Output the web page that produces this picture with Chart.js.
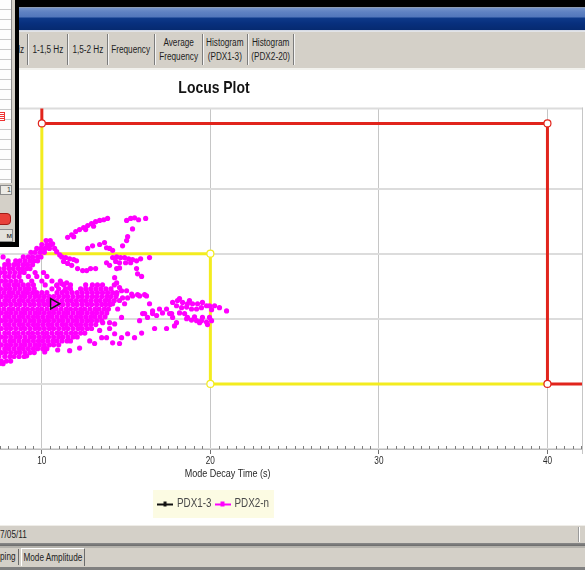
<!DOCTYPE html>
<html>
<head>
<meta charset="utf-8">
<title>Locus Plot</title>
<script src="https://cdn.jsdelivr.net/npm/chart.js@4.4.1/dist/chart.umd.min.js"></script>
<style>
  html, body { margin: 0; padding: 0; overflow: hidden; background: #fff; }
  #screen { position: relative; width: 585px; height: 570px; overflow: hidden; background: #fff;
            font-family: 'Liberation Sans', Arial, sans-serif; }
  .abs { position: absolute; }
  .sq { display: inline-block; transform: scaleX(0.82); transform-origin: center; }
  .sqL { display: inline-block; transform: scaleX(0.82); transform-origin: left center; }
  #topEdge { left: 0; top: 0; width: 585px; height: 7px; background: #000; }
  #caption { left: 0; top: 7px; width: 585px; height: 25px;
             background: linear-gradient(to bottom, #8e9cb4 0, #8e9cb4 1px, #7493ca 1px, #5f82c2 5px, #5277bb 10px,
                                         #0e3a8a 11px, #08307e 16px, #062a70 23px, #cfd6e4 23px, #e8e8e8 25px); }
  #tabStrip { left: 0; top: 32px; width: 585px; height: 36px; background: #d4d0c8; }
  #tabStrip .sep { position: absolute; top: 2px; width: 1px; height: 31px; background: #7c7c7c; box-shadow: 1px 0 0 #f4f4f4; }
  #tabStrip .lbl { position: absolute; top: 0; height: 36px; display: flex; align-items: center; justify-content: center;
                   text-align: center; font-size: 10px; line-height: 14px; color: #1e1e1e; white-space: nowrap; }
  #tabBase { left: 0; top: 68px; width: 585px; height: 2px; background: #f2f2ee; }
  #chartBox { left: -154px; top: 70px; width: 739px; height: 455px; }
  #statusBar { left: 0; top: 525px; width: 585px; height: 18px; background: #d4d0c8; border-top: 1px solid #efede8;
               box-sizing: border-box; font-size: 10px; line-height: 17px; color: #1e1e1e; }
  #statusBar .div { position: absolute; left: 578px; top: 1px; width: 1px; height: 15px; background: #9a9a9a; box-shadow: 1px 0 0 #fff; }
  #statusSep { left: 0; top: 543px; width: 585px; height: 5px; background: linear-gradient(to bottom, #8a8a8a 0, #6c6c6c 3px, #b4b2ac 3px); }
  #bottomTabs { left: 0; top: 548px; width: 585px; height: 19px; background: #d4d0c8; font-size: 10px; color: #1e1e1e; }
  #bottomTabs .t1 { position: absolute; left: 0; top: 3px; }
  #bottomTabs .t2 { position: absolute; left: 21px; top: 0; width: 62px; height: 17px; border-left: 1px solid #fff; border-top: 1px solid #fff;
                    border-right: 1px solid #6c6c6c; line-height: 17px; display: flex; justify-content: center; white-space: nowrap; }
  #bottomTabs .s1 { position: absolute; left: 18px; top: 1px; width: 1px; height: 16px; background: #6c6c6c; }
  #bottomEdge { left: 0; top: 567px; width: 585px; height: 3px; background: #808080; }

  #sidePanel { left: 0; top: 0; width: 15px; height: 242px; background: #d4d0c8; border-right: 4px solid #000; border-bottom: 5px solid #000; z-index: 5; }
  #sidePanel .list { position: absolute; left: 0; top: 0; width: 11px; height: 183px; background: #fdfdfd; border-right: 1px solid #8c8c8c;
                     background-image: repeating-linear-gradient(to bottom, transparent 0, transparent 9px, #c9c9c9 9px, #c9c9c9 10px); }
  #sidePanel .mark { position: absolute; left: 0; top: 112px; width: 4px; height: 7px; border: 1px solid #e33; border-left: none;
                     background: repeating-linear-gradient(to bottom, #fff 0, #fff 1px, #e33 1px, #e33 2px); }
  #sidePanel .pager { position: absolute; left: 0; top: 185px; width: 10px; height: 8px; border: 1px solid #8c8c8c; background: #ecebe6;
                      font-size: 7px; line-height: 8px; text-align: right; color: #333; }
  #sidePanel .redBtn { position: absolute; left: -4px; top: 213px; width: 13px; height: 10px; border-radius: 4px; background: #e8413a;
                       border: 1px solid #a01d18; }
  #sidePanel .btn { position: absolute; left: 0; top: 229px; width: 12px; height: 11px; border: 1px solid #8c8c8c; border-left: none; background: #e4e2dc;
                    font-size: 8px; line-height: 11px; color: #222; text-align: right; overflow: hidden; }
</style>
</head>
<body>
<div id="screen">
  <div id="topEdge" class="abs"></div>
  <div id="caption" class="abs"></div>
  <div id="tabStrip" class="abs">
    <div class="lbl" style="left:3px;width:21px;justify-content:flex-end;"><span class="sq" style="transform-origin:right center">Hz</span></div>
    <div class="sep" style="left:27px"></div>
    <div class="lbl" style="left:28px;width:39px;"><span class="sq">1-1,5 Hz</span></div>
    <div class="sep" style="left:67px"></div>
    <div class="lbl" style="left:68px;width:39px;"><span class="sq">1,5-2 Hz</span></div>
    <div class="sep" style="left:107px"></div>
    <div class="lbl" style="left:108px;width:46px;"><span class="sq">Frequency</span></div>
    <div class="sep" style="left:154px"></div>
    <div class="lbl" style="left:155px;width:47px;"><span class="sq">Average<br>Frequency</span></div>
    <div class="sep" style="left:202px"></div>
    <div class="lbl" style="left:203px;width:44px;"><span class="sq">Histogram<br>(PDX1-3)</span></div>
    <div class="sep" style="left:247px"></div>
    <div class="lbl" style="left:248px;width:45px;"><span class="sq">Histogram<br>(PDX2-20)</span></div>
    <div class="sep" style="left:293px"></div>
  </div>
  <div id="tabBase" class="abs"></div>

  <div id="chartBox" class="abs"><canvas id="locus" width="739" height="455"></canvas></div>

  <div id="statusBar" class="abs"><span class="sqL">7/05/11</span><div class="div"></div></div>
  <div id="statusSep" class="abs"></div>
  <div id="bottomTabs" class="abs">
    <span class="t1 sqL">ping</span>
    <div class="s1"></div>
    <div class="t2"><span class="sq">Mode Amplitude</span></div>
  </div>
  <div id="bottomEdge" class="abs"></div>

  <div id="sidePanel" class="abs">
    <div class="list"><div class="mark"></div></div>
    <div class="pager">1</div>
    <div class="redBtn"></div>
    <div class="btn">м</div>
  </div>
</div>

<script>
// ---- axis ticks ----
const decayTicks = [0, 10, 20, 30, 40];        // Mode Decay Time (s)
const dampingGrid = [0, 1, 2, 3, 4];           // horizontal grid levels
const minorStep = 0.5;

// ---- alarm limit polylines ----
const redLimitX = [10, 10, 40, 40, 46];
const redLimitY = [5.6, 5, 5, 1, 1];
const redMarkers = [0, 3.5, 3.5, 3.5, 0];

const yellowLimitX = [10, 10, 20, 20, 40];
const yellowLimitY = [5, 3, 3, 1, 1];
const yellowMarkers = [0, 0, 3.5, 3.5, 0];

// ---- PDX1-3 ----
const pdx13X = [10.70];
const pdx13Y = [2.23];

// ---- PDX2-n: main cloud, one row per damping level ----
const pdx2CloudRows = [
  [3.20, [10.25, 10.50]],
  [3.14, [10.00, 10.30, 10.55]],
  [3.08, [9.70, 9.95, 10.20, 10.45]],
  [3.02, [9.35, 9.60, 9.90, 10.15]],
  [2.95, [7.70, 8.90, 9.20, 9.45, 9.75, 9.95]],
  [2.89, [8.00, 8.45, 8.70, 9.00, 9.30, 9.55, 9.75]],
  [2.83, [7.80, 8.05, 8.35, 8.60, 8.90, 9.15, 9.45]],
  [2.77, [7.45, 7.75, 8.05, 8.30, 8.60, 8.85, 9.10, 9.30]],
  [2.71, [7.55, 7.80, 8.10, 8.40, 8.70, 8.95, 9.60, 10.10]],
  [2.65, [7.45, 7.80, 8.05, 8.35, 8.65, 9.20, 9.70, 10.30]],
  [2.58, [7.60, 7.85, 8.15, 8.45, 8.75, 9.40, 10.00, 10.60, 11.10]],
  [2.52, [7.45, 7.80, 8.05, 8.35, 8.60, 8.90, 9.20, 9.50, 10.20, 10.90, 11.30, 11.70, 12.60, 13.00, 13.30, 13.60, 14.30]],
  [2.46, [7.55, 7.85, 8.10, 8.40, 8.70, 9.00, 9.25, 9.55, 10.60, 11.00, 11.40, 11.70, 12.30, 12.60, 12.90, 13.20, 13.50, 13.80, 14.10]],
  [2.40, [7.45, 7.75, 8.05, 8.30, 8.60, 8.90, 9.15, 9.45, 9.70, 10.00, 10.30, 10.90, 11.20, 11.50, 11.80, 12.10, 12.40, 12.70, 13.00, 13.30, 13.60, 13.90, 14.20, 14.45]],
  [2.34, [7.60, 7.90, 8.15, 8.45, 8.75, 9.00, 9.30, 9.60, 9.85, 10.15, 10.45, 10.70, 11.00, 11.30, 11.55, 11.85, 12.15, 12.40, 12.70, 13.00, 13.25, 13.55, 13.85, 14.10, 14.40]],
  [2.28, [7.45, 7.80, 8.05, 8.35, 8.65, 8.90, 9.20, 9.50, 9.80, 10.05, 10.35, 10.65, 10.90, 11.20, 11.50, 11.75, 12.05, 12.35, 12.60, 12.90, 13.20, 13.45, 13.75, 14.00, 14.30]],
  [2.22, [7.60, 7.85, 8.15, 8.45, 8.70, 9.00, 9.30, 9.55, 9.85, 10.15, 10.40, 10.70, 11.00, 11.25, 11.55, 11.85, 12.10, 12.40, 12.70, 12.95, 13.25, 13.55, 13.80, 14.05]],
  [2.15, [7.45, 7.75, 8.05, 8.30, 8.60, 8.90, 9.15, 9.45, 9.75, 10.00, 10.30, 10.60, 10.85, 11.15, 11.45, 11.70, 12.00, 12.30, 12.55, 12.85, 13.15, 13.40, 13.70, 13.95]],
  [2.09, [7.60, 7.90, 8.15, 8.45, 8.75, 9.00, 9.30, 9.60, 9.85, 10.15, 10.45, 10.70, 11.00, 11.30, 11.55, 11.85, 12.15, 12.40, 12.70, 13.00, 13.25, 13.55, 13.85]],
  [2.03, [7.45, 7.80, 8.05, 8.35, 8.65, 8.90, 9.20, 9.50, 9.75, 10.05, 10.35, 10.60, 10.90, 11.20, 11.45, 11.75, 12.05, 12.30, 12.60, 12.90, 13.15, 13.45, 13.75]],
  [1.97, [7.60, 7.85, 8.15, 8.45, 8.70, 9.00, 9.30, 9.55, 9.85, 10.15, 10.40, 10.70, 11.00, 11.25, 11.55, 11.85, 12.10, 12.40, 12.70, 12.95, 13.25, 13.55]],
  [1.91, [7.45, 7.80, 8.05, 8.35, 8.65, 8.90, 9.20, 9.50, 9.75, 10.05, 10.35, 10.60, 10.90, 11.20, 11.45, 11.75, 12.05, 12.30, 12.60, 12.90, 13.20]],
  [1.85, [7.60, 7.90, 8.15, 8.45, 8.75, 9.00, 9.30, 9.60, 9.85, 10.15, 10.45, 10.70, 11.00, 11.30, 11.55, 11.85, 12.15, 12.40, 12.70, 12.95]],
  [1.78, [7.45, 7.80, 8.05, 8.35, 8.60, 8.90, 9.20, 9.45, 9.75, 10.05, 10.30, 10.60, 10.90, 11.15, 11.45, 11.75, 12.00, 12.30, 12.55]],
  [1.72, [7.60, 7.85, 8.15, 8.45, 8.70, 9.00, 9.30, 9.55, 9.85, 10.15, 10.40, 10.70, 11.00, 11.25, 11.55, 11.85, 12.10]],
  [1.66, [7.45, 7.80, 8.10, 8.35, 8.65, 8.95, 9.20, 9.50, 9.80, 10.05, 10.35, 10.65, 10.90, 11.20, 11.50, 11.70]],
  [1.60, [7.60, 7.90, 8.15, 8.45, 8.75, 9.00, 9.30, 9.60, 9.85, 10.15, 10.45, 10.70, 11.00]],
  [1.54, [7.45, 7.80, 8.05, 8.35, 8.65, 8.90, 9.20, 9.50, 9.75, 10.05, 10.30]],
  [1.48, [7.60, 7.85, 8.15, 8.45, 8.70, 9.00, 9.30, 9.55]],
  [1.42, [7.45, 7.80, 8.10, 8.35, 8.65, 8.95]],
  [1.35, [7.60, 7.90, 8.15]],
  [1.31, [7.45, 7.70]]
];

// ---- PDX2-n: scattered modes [decay time, damping] ----
const pdx2Upper = [
  [11.53, 3.25], [11.77, 3.29], [11.89, 3.26], [12.01, 3.34], [12.24, 3.37], [12.48, 3.40], [12.60, 3.37],
  [12.72, 3.43], [12.95, 3.46], [13.07, 3.42], [13.19, 3.49], [13.43, 3.51], [13.67, 3.52], [13.90, 3.54],
  [15.03, 3.51], [15.27, 3.54], [15.50, 3.55], [15.74, 3.52], [16.16, 3.54], [15.38, 3.38], [15.09, 3.26],
  [15.03, 3.20], [14.79, 3.12], [12.72, 3.08], [13.01, 3.12], [13.43, 3.14], [13.72, 3.17], [13.84, 3.09],
  [14.02, 3.08], [14.20, 3.05]
];
const pdx2Middle = [
  [10.64, 3.15], [10.76, 3.08], [10.88, 3.03], [11.06, 2.98],
  [11.18, 2.95], [11.41, 2.94], [11.65, 2.92], [11.89, 2.91], [12.06, 2.89], [11.29, 2.88], [11.53, 2.85], [11.77, 2.82],
  [12.12, 2.77], [12.42, 2.74], [12.66, 2.74], [12.89, 2.77], [13.19, 2.77], [13.84, 2.86], [14.02, 2.82], [14.44, 2.77], [14.61, 2.78],
  [14.20, 2.94], [14.44, 2.95], [14.67, 2.94], [14.91, 2.94], [15.15, 2.92], [15.38, 2.91], [15.62, 2.89], [15.86, 2.92],
  [14.38, 2.88], [14.61, 2.86], [14.97, 2.86], [15.27, 2.86], [16.39, 2.94],
  [15.62, 2.77], [15.68, 2.69], [15.92, 2.65],
  [10.88, 2.51], [11.18, 2.54], [11.47, 2.55], [11.65, 2.48], [11.35, 2.43],
  [14.32, 2.63], [14.44, 2.55], [14.61, 2.48], [15.03, 2.43], [15.33, 2.38], [15.68, 2.37], [16.10, 2.37], [14.73, 2.43],
  [14.44, 2.38], [14.61, 2.28], [14.91, 2.23], [15.09, 2.32], [15.38, 2.35], [15.80, 2.35], [16.21, 2.35], [14.20, 2.23],
  [14.50, 2.15], [14.79, 2.32]
];
const pdx2Lower = [
  [9.10, 1.43], [10.17, 1.49], [10.94, 1.52], [11.65, 1.51], [12.24, 1.55], [12.84, 1.66], [13.13, 1.62], [13.55, 1.71],
  [13.84, 1.71], [14.20, 1.63], [14.61, 1.62], [14.32, 1.77], [14.73, 1.71], [15.09, 1.77], [15.50, 1.71], [15.92, 1.78],
  [13.43, 1.82], [14.02, 1.85], [13.61, 1.94], [14.02, 1.94], [14.32, 1.92], [14.73, 2.02], [15.80, 1.97], [16.10, 2.08],
  [16.57, 2.08], [16.69, 1.85], [17.40, 1.85], [17.87, 1.89], [17.99, 1.94], [17.16, 2.09], [17.40, 2.15], [17.58, 2.08]
];
const pdx2Tail = [
  [17.76, 2.25], [18.05, 2.28], [18.35, 2.25], [18.64, 2.23], [18.94, 2.23], [19.24, 2.23], [19.53, 2.25], [19.77, 2.20],
  [19.95, 2.20], [20.25, 2.20], [20.54, 2.17], [20.96, 2.12], [17.99, 2.20], [18.29, 2.17], [18.59, 2.18], [18.88, 2.15],
  [19.18, 2.15], [19.47, 2.17], [20.07, 2.14], [18.17, 2.31], [18.76, 2.28],
  [18.59, 2.00], [18.88, 1.98], [19.18, 1.97], [19.47, 1.97], [19.77, 1.95], [20.07, 1.97], [18.64, 2.02], [19.53, 2.02],
  [19.95, 2.02], [19.06, 2.03], [19.36, 1.94], [19.83, 1.91],
  [16.98, 2.15], [17.70, 2.08], [17.76, 2.02], [18.17, 2.09], [18.47, 2.08],
  [15.98, 2.08], [16.27, 2.02], [16.57, 2.12], [16.81, 2.05], [16.39, 2.23]
];

// ---- styling ----
const FONT = "'Liberation Sans', Arial, sans-serif";
const RED = '#e1241c';
const YELLOW = '#f3ec1f';
const MAGENTA = '#ff00ff';
const SQUEEZE = 0.82;   // narrow lettering of the monitoring UI

Chart.defaults.font.family = FONT;

const toPoints = (xs, ys) => xs.map((x, i) => ({ x, y: ys[i] }));
const pairPoints = list => list.map(([x, y]) => ({ x, y }));
const pdx2Data = [
  ...pdx2CloudRows.flatMap(([y, xs]) => xs.map(x => ({ x, y }))),
  ...pairPoints(pdx2Upper), ...pairPoints(pdx2Middle), ...pairPoints(pdx2Lower), ...pairPoints(pdx2Tail)
];

// canvas text is drawn horizontally condensed; measurements follow so layout stays consistent
const canvas = document.getElementById('locus');
const ctx2d = canvas.getContext('2d');
const rawFill = ctx2d.fillText.bind(ctx2d);
const rawMeasure = ctx2d.measureText.bind(ctx2d);
ctx2d.fillText = function (text, x, y) {
  ctx2d.save();
  ctx2d.translate(x, y);
  ctx2d.scale(SQUEEZE, 1);
  rawFill(text, 0, 0);
  ctx2d.restore();
};
ctx2d.measureText = function (text) {
  const m = rawMeasure(text);
  return {
    width: m.width * SQUEEZE,
    actualBoundingBoxLeft: m.actualBoundingBoxLeft * SQUEEZE,
    actualBoundingBoxRight: m.actualBoundingBoxRight * SQUEEZE,
    actualBoundingBoxAscent: m.actualBoundingBoxAscent,
    actualBoundingBoxDescent: m.actualBoundingBoxDescent
  };
};

// small "line with marker" swatch used in the legend
function legendMark(color, markW) {
  const c = document.createElement('canvas');
  c.width = 16; c.height = 7;
  const g = c.getContext('2d');
  g.fillStyle = color;
  g.fillRect(0, 3, 16, 2);
  g.fillRect(8 - markW / 2, 1, markW, 5);
  return c;
}

// plot frame: top edge and right edge of the plotting area
const plotFrame = {
  id: 'plotFrame',
  beforeDatasetsDraw(chart) {
    const { ctx, chartArea: a } = chart;
    ctx.save();
    ctx.strokeStyle = '#dcdcdc'; ctx.lineWidth = 2;
    ctx.beginPath(); ctx.moveTo(a.left, a.top); ctx.lineTo(a.right, a.top); ctx.stroke();
    ctx.strokeStyle = '#c6c6c6'; ctx.lineWidth = 1;
    ctx.beginPath(); ctx.moveTo(a.right + 0.5, a.top - 1); ctx.lineTo(a.right + 0.5, a.bottom + 5); ctx.stroke();
    ctx.restore();
  }
};

// minor tick marks along the time axis
const minorTicks = {
  id: 'minorTicks',
  afterDraw(chart) {
    const xs = chart.scales.x, a = chart.chartArea, ctx = chart.ctx;
    ctx.save();
    ctx.strokeStyle = '#7c7c7c'; ctx.lineWidth = 1;
    ctx.beginPath();
    for (let k = 1; k * minorStep < xs.max; k++) {
      const v = k * minorStep;
      if (decayTicks.includes(v)) continue;
      const p = Math.round(xs.getPixelForValue(v)) + 0.5;
      ctx.moveTo(p, a.bottom - 3); ctx.lineTo(p, a.bottom);
    }
    ctx.stroke();
    ctx.restore();
  }
};

// pale panel behind the legend entries
const legendPanel = {
  id: 'legendPanel',
  beforeDraw(chart) {
    const boxes = chart.legend && chart.legend.legendHitBoxes;
    if (!boxes || !boxes.length) return;
    const l = Math.min(...boxes.map(b => b.left)) - 6;
    const r = Math.max(...boxes.map(b => b.left + b.width)) + 5;
    const t = Math.min(...boxes.map(b => b.top)) - 8;
    const btm = Math.max(...boxes.map(b => b.top + b.height)) + 8;
    const ctx = chart.ctx;
    ctx.save();
    ctx.fillStyle = '#fcfbe3';
    ctx.fillRect(l, t, r - l, btm - t);
    ctx.restore();
  }
};

new Chart(canvas, {
  type: 'scatter',
  data: {
    datasets: [
      {
        label: 'PDX1-3',
        data: toPoints(pdx13X, pdx13Y),
        pointStyle: 'triangle',
        rotation: 90,
        pointRadius: 6,
        backgroundColor: 'rgba(0,0,0,0)',
        borderColor: '#1a1a1a',
        borderWidth: 1.5
      },
      {
        label: 'PDX2-n',
        data: pdx2Data,
        pointRadius: 2.6,
        backgroundColor: MAGENTA,
        borderWidth: 0
      },
      {
        label: 'red limit',
        data: toPoints(redLimitX, redLimitY),
        showLine: true,
        borderColor: RED,
        borderWidth: 3,
        pointRadius: redMarkers,
        pointBackgroundColor: '#fff',
        pointBorderColor: RED,
        pointBorderWidth: 1.2
      },
      {
        label: 'yellow limit',
        data: toPoints(yellowLimitX, yellowLimitY),
        showLine: true,
        borderColor: YELLOW,
        borderWidth: 3,
        pointRadius: yellowMarkers,
        pointBackgroundColor: '#fff',
        pointBorderColor: YELLOW,
        pointBorderWidth: 1.2
      }
    ]
  },
  options: {
    responsive: false,
    animation: false,
    devicePixelRatio: 1,
    layout: { autoPadding: false, padding: { left: 0, right: 3, top: 0, bottom: 5 } },
    plugins: {
      title: {
        display: true,
        text: 'Locus Plot',
        color: '#141414',
        font: { family: FONT, size: 17, weight: 'bold' },
        padding: { top: 8, bottom: 10 }
      },
      legend: {
        position: 'bottom',
        onClick: () => {},
        labels: {
          usePointStyle: true,
          pointStyleWidth: 12,
          padding: 5,
          color: '#4a4a4a',
          font: { family: FONT, size: 12 },
          generateLabels: () => [
            { text: 'PDX1-3', pointStyle: legendMark('#111', 3), fillStyle: '#111', strokeStyle: '#111', lineWidth: 0, fontColor: '#4a4a4a', hidden: false, datasetIndex: 0 },
            { text: 'PDX2-n', pointStyle: legendMark(MAGENTA, 4), fillStyle: MAGENTA, strokeStyle: MAGENTA, lineWidth: 0, fontColor: '#4a4a4a', hidden: false, datasetIndex: 1 }
          ]
        }
      },
      tooltip: { enabled: false }
    },
    scales: {
      x: {
        type: 'linear',
        min: 0,
        max: 42.05,
        afterBuildTicks: s => { s.ticks = decayTicks.map(v => ({ value: v })); },
        afterFit: s => { s.paddingLeft = 0; s.paddingRight = 0; },
        ticks: { padding: 1, color: '#2a2a2a', font: { family: FONT, size: 10 }, maxRotation: 0, autoSkip: false },
        grid: { color: '#c6c6c6', lineWidth: 1, tickLength: 5, tickColor: '#707070' },
        border: { color: '#bdbdbd', width: 1 },
        title: {
          display: true,
          text: 'Mode Decay Time (s)',
          color: '#2a2a2a',
          font: { family: FONT, size: 11, lineHeight: 1 },
          padding: { top: 0, bottom: 14 }
        }
      },
      y: {
        type: 'linear',
        min: 0,
        max: 5.23,
        afterBuildTicks: s => { s.ticks = dampingGrid.map(v => ({ value: v })); },
        afterFit: s => { s.width = 27.3; },
        ticks: { display: false },
        grid: { color: '#dcdcdc', lineWidth: 2, drawTicks: false },
        border: { display: false }
      }
    }
  },
  plugins: [legendPanel, plotFrame, minorTicks]
});
</script>
</body>
</html>
